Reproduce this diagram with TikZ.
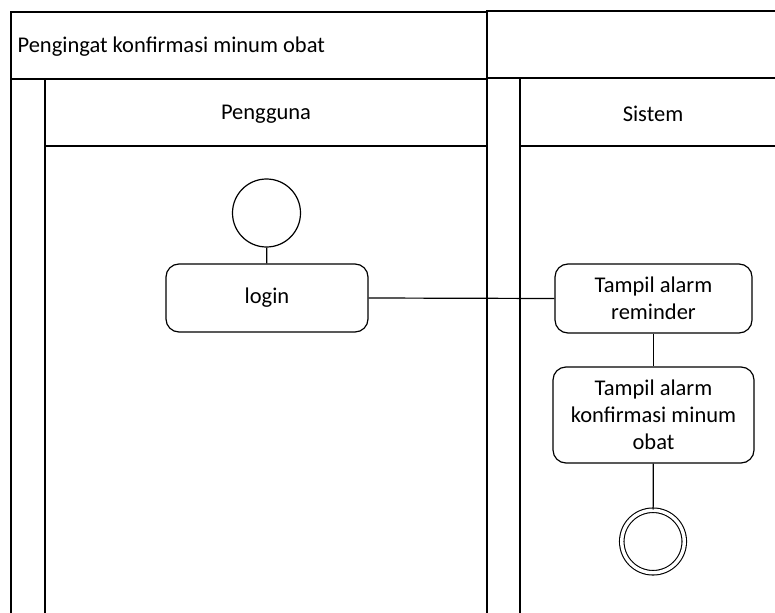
\documentclass[tikz,border=0pt]{standalone}
\usepackage{fontspec}
\setmainfont{Carlito}
\begin{document}
\begin{tikzpicture}[x=1pt,y=-1pt,
  line width=1.2pt,
  every node/.style={font=\fontsize{22.5}{27}\selectfont, inner sep=0pt},
  action/.style={draw, rounded corners=13pt, align=center},
  startnode/.style={draw, circle, minimum size=68pt},
  endnode/.style={draw, circle, double, double distance=3.4pt, line width=1.1pt, minimum size=62.5pt},
  flow/.style={line width=1.2pt}]
\useasboundingbox (0,0) rectangle (775,612);

% pool title row
\draw (11,12) rectangle (487,79);
\node[anchor=west] (title) at (17,47) {Pengingat konfirmasi minum obat};
\draw (487,78) -- (487,11) -- (780,11);
\draw (487,78) -- (780,78);

% lane "Pengguna"
\draw (11,79) -- (11,620);
\draw (45,79) -- (45,620);
\draw (45,146) -- (487,146);
\draw (487,79) -- (487,620);
\node (pengguna) at (266,114) {Pengguna};

% lane "Sistem"
\draw (520,78) -- (520,620);
\draw (520,146) -- (780,146);
\node (sistem) at (653,114) {Sistem};

% activities
\node[startnode] (start) at (266.5,213) {};
\node[action, minimum width=202pt, minimum height=68pt] (login) at (267,298) {login};
\node[action, minimum width=197pt, minimum height=69pt] (reminder) at (653.5,298.5) {Tampil alarm\\reminder};
\node[action, minimum width=201pt, minimum height=96pt] (konfirmasi) at (653.5,415) {Tampil alarm\\konfirmasi minum\\obat};
\node[endnode] (stop) at (653,541.5) {};

% control flow
\draw[flow] (start) -- (login);
\draw[flow] (login.east) -- (reminder.west);
\draw[flow] (reminder) -- (konfirmasi);
\draw[flow] (konfirmasi) -- (stop);
\end{tikzpicture}
\end{document}
